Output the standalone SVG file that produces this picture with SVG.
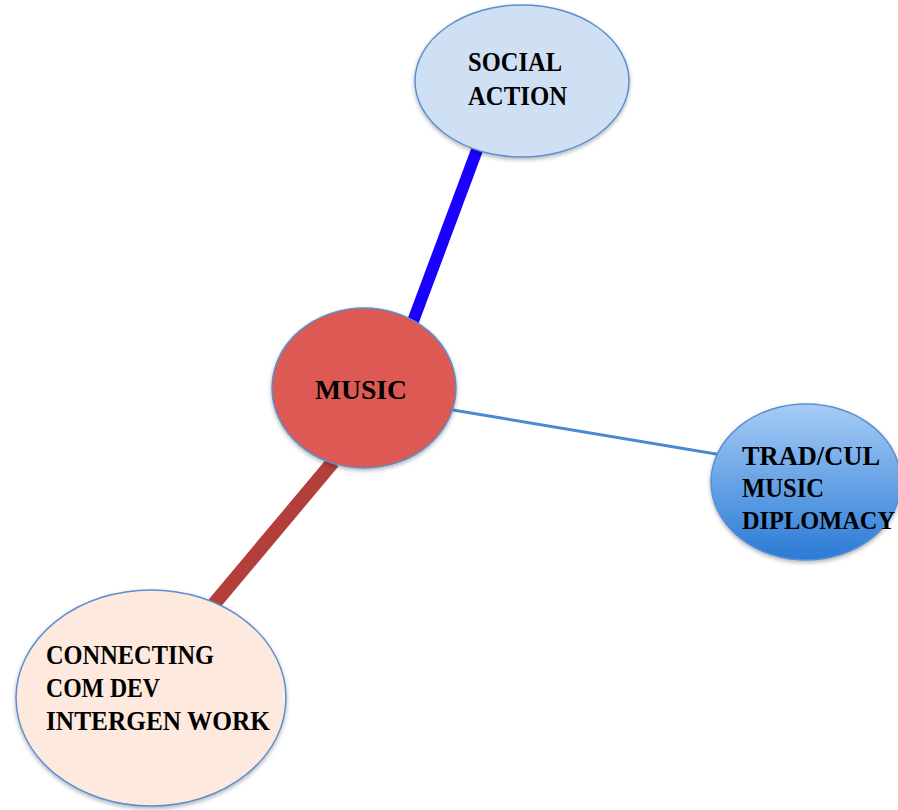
<svg xmlns="http://www.w3.org/2000/svg" width="898" height="810" viewBox="0 0 898 810">
<defs>
<linearGradient id="tradGrad" x1="0" y1="0" x2="0" y2="1">
<stop offset="0" stop-color="#a6ccf6"/>
<stop offset="1" stop-color="#2a7ad6"/>
</linearGradient>
<filter id="sh" x="-10%" y="-10%" width="130%" height="130%">
<feGaussianBlur in="SourceAlpha" stdDeviation="2"/>
<feOffset dx="0" dy="2" result="b"/>
<feComponentTransfer><feFuncA type="linear" slope="0.3"/></feComponentTransfer>
<feMerge><feMergeNode/><feMergeNode in="SourceGraphic"/></feMerge>
</filter>
</defs>
<style>
.node { stroke: #5b8fcf; stroke-width: 1.5; filter: url(#sh); }
.lbl { font-family: "Liberation Serif", "DejaVu Serif", serif; font-weight: bold; font-size: 28px; fill: #000; }
</style>
<rect width="898" height="810" fill="#ffffff"/>
<g id="connectors">
<line x1="477" y1="150" x2="412" y2="324" stroke="#1a00ff" stroke-width="12"/>
<line x1="453" y1="410" x2="722" y2="455" stroke="#4a8ad0" stroke-width="3"/>
<line x1="333" y1="462" x2="214" y2="604" stroke="#b33f3c" stroke-width="14"/>
</g>
<g id="social-action">
<ellipse class="node" cx="522" cy="81" rx="107" ry="76" fill="#cfe0f4"/>
<text class="lbl" x="468" y="71" textLength="94" lengthAdjust="spacingAndGlyphs">SOCIAL</text>
<text class="lbl" x="468" y="105" textLength="99" lengthAdjust="spacingAndGlyphs">ACTION</text>
</g>
<g id="music">
<ellipse class="node" cx="364" cy="388" rx="92" ry="80" fill="#dc5a52"/>
<text class="lbl" x="315" y="399" textLength="92" lengthAdjust="spacingAndGlyphs">MUSIC</text>
</g>
<g id="trad-cul">
<ellipse class="node" cx="806" cy="482" rx="95" ry="78" fill="url(#tradGrad)"/>
<text class="lbl" x="742" y="465" textLength="138" lengthAdjust="spacingAndGlyphs">TRAD/CUL</text>
<text class="lbl" x="742" y="497" textLength="82" lengthAdjust="spacingAndGlyphs">MUSIC</text>
<text class="lbl" x="742" y="529" style="font-size:24.5px" textLength="153" lengthAdjust="spacingAndGlyphs">DIPLOMACY</text>
</g>
<g id="connecting">
<ellipse class="node" cx="151" cy="698" rx="135" ry="108" fill="#fde9dd"/>
<text class="lbl" x="46" y="664" textLength="168" lengthAdjust="spacingAndGlyphs">CONNECTING</text>
<text class="lbl" x="46" y="697" textLength="114" lengthAdjust="spacingAndGlyphs">COM DEV</text>
<text class="lbl" x="46" y="730" textLength="224" lengthAdjust="spacingAndGlyphs">INTERGEN WORK</text>
</g>
</svg>
